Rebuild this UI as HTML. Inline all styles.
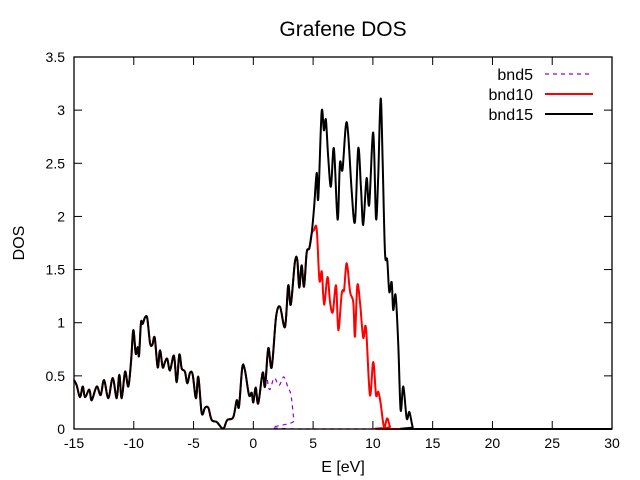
<!DOCTYPE html>
<html><head><meta charset="utf-8"><style>
body{margin:0;background:#fff}
svg{display:block;font-family:"Liberation Sans",Arial,sans-serif}
</style></head><body>
<svg id="chart" width="640" height="480" viewBox="0 0 640 480">
<rect width="640" height="480" fill="#fff"/>
<text x="343" y="36" text-anchor="middle" font-size="21">Grafene DOS</text>
<text x="0" y="0" transform="translate(24,243) rotate(-90)" text-anchor="middle" font-size="16">DOS</text>
<text x="343" y="472" text-anchor="middle" font-size="16">E [eV]</text>
<g id="grid"></g>
<g id="series"></g>
<rect x="74" y="57" width="538" height="372" fill="none" stroke="#000" stroke-width="1.3"/>
<g id="legend"></g>
</svg>
<script>
const xTicks=[-15,-10,-5,0,5,10,15,20,25,30];
const yTicks=[0,0.5,1,1.5,2,2.5,3,3.5];
const yTickLabels=["0","0.5","1","1.5","2","2.5","3","3.5"];
const seriesNames=["bnd5","bnd10","bnd15"];
const commonE=[-15,-14.77,-14.5,-14.27,-14.08,-13.72,-13.52,-13.1,-12.77,-12.49,-12.13,-11.76,-11.43,-11.21,-11.01,-10.73,-10.46,-10.23,-10.04,-9.84,-9.67,-9.56,-9.4,-9.25,-9.06,-8.87,-8.64,-8.45,-8.25,-8.0,-7.81,-7.58,-7.39,-7.2,-6.97,-6.64,-6.41,-6.19,-5.99,-5.72,-5.52,-5.3,-5.07,-4.8,-4.6,-4.32,-4.04,-3.77,-3.48,-3.06,-2.65,-2.45,-2.18,-1.68,-1.39,-1.2,-0.92,-0.7,-0.36,-0.14,0.0,0.2,0.41,0.78,0.98];
const commonD=[0.46,0.41,0.30,0.40,0.30,0.37,0.27,0.40,0.32,0.46,0.29,0.48,0.29,0.51,0.29,0.54,0.40,0.63,0.93,0.71,0.77,0.69,1.0,0.99,1.05,1.04,0.81,0.79,0.86,0.58,0.74,0.58,0.63,0.66,0.55,0.69,0.44,0.70,0.57,0.54,0.43,0.53,0.51,0.29,0.49,0.15,0.20,0.20,0.085,0.066,0.01,0.01,0.085,0.11,0.27,0.21,0.58,0.55,0.32,0.34,0.25,0.39,0.24,0.53,0.40];
const bnd5E=[1.1,1.35,1.75,2.15,2.55,2.9,3.15,3.4,3.6,30];
const bnd5D=[0.5,0.37,0.48,0.41,0.49,0.39,0.32,0.08,0,0];
const midE=[1.25,1.54,1.9,2.23,2.65,2.92,3.13,3.48,3.68,3.84,4.04,4.24,4.46,4.68,4.88];
const midD=[0.76,0.58,1.05,1.15,0.96,1.35,1.17,1.57,1.59,1.33,1.54,1.34,1.66,1.70,1.84];
const bnd10E=[5.07,5.3,5.53,5.73,5.92,6.2,6.42,6.65,6.92,7.11,7.4,7.59,7.81,8.09,8.36,8.5,8.7,8.92,9.19,9.42,9.75,10.03,10.26,10.45,10.65,10.93,11.2,11.43,11.6,30];
const bnd10D=[1.87,1.88,1.40,1.48,1.17,1.43,1.19,1.10,1.35,0.93,1.28,1.31,1.56,1.29,1.19,0.87,1.35,1.19,0.86,0.95,0.32,0.63,0.32,0.35,0.24,0.02,0.10,0.02,0,0];
const bnd15E=[5.1,5.3,5.43,5.71,5.9,6.07,6.26,6.49,6.74,7.05,7.24,7.46,7.74,7.93,8.22,8.5,8.77,9.0,9.19,9.47,9.69,10.03,10.26,10.45,10.65,10.82,11.01,11.2,11.37,11.57,11.7,11.9,12.12,12.32,12.54,12.83,13.05,13.33,13.6,30];
const bnd15D=[2.11,2.41,2.17,2.98,2.81,2.91,2.56,2.28,2.64,1.97,2.50,2.44,2.86,2.78,2.25,1.95,2.64,2.28,1.92,2.36,2.11,2.79,1.98,2.40,3.11,2.50,1.66,1.59,1.29,1.38,1.12,1.26,0.81,0.18,0.40,0.10,0.16,0.02,0,0];

const X0=74,X1=612,Y0=429,Y1=57;
const sx=v=>X0+(v-(-15))/45*(X1-X0);
const sy=v=>Y0-(v/3.5)*(Y0-Y1);
const NS="http://www.w3.org/2000/svg";
function mk(tag,attrs,parent){const e=document.createElementNS(NS,tag);for(const k in attrs)e.setAttribute(k,attrs[k]);parent.appendChild(e);return e;}
const grid=document.getElementById('grid');
xTicks.forEach(t=>{
  const x=sx(t);
  const a=mk('line',{x1:x,x2:x,y1:Y0,y2:Y0-8,stroke:'#000'},grid);
  
  
  const b=mk('line',{x1:x,x2:x,y1:Y1,y2:Y1+8,stroke:'#000'},grid);
  
  
  const l=mk('text',{x:x,y:448,'text-anchor':'middle','font-size':'14'},grid);
  l.textContent=String(t);
  
  
});
yTicks.forEach((t,i)=>{
  const y=sy(t);
  const a=mk('line',{x1:X0,x2:X0+8,y1:y,y2:y,stroke:'#000'},grid);
  
  
  const b=mk('line',{x1:X1,x2:X1-8,y1:y,y2:y,stroke:'#000'},grid);
  
  
  const l=mk('text',{x:X0-9,y:y+5,'text-anchor':'end','font-size':'14'},grid);
  l.textContent=yTickLabels[i];
  
  
});
const ser=document.getElementById('series');
function smooth(E,D){
  const p=E.map((e,i)=>[sx(e),sy(D[i])]);
  let d='M'+p[0][0].toFixed(1)+','+p[0][1].toFixed(1);
  for(let i=0;i<p.length-1;i++){
    const p0=p[i-1]||p[i],p1=p[i],p2=p[i+1],p3=p[i+2]||p2;
    const k=6;
    let c1y=p1[1]+(p2[1]-p0[1])/k, c2y=p2[1]-(p3[1]-p1[1])/k;
    c1y=Math.min(c1y,Y0);c2y=Math.min(c2y,Y0);
    d+=' C'+(p1[0]+(p2[0]-p0[0])/k).toFixed(1)+','+c1y.toFixed(1)+' '+(p2[0]-(p3[0]-p1[0])/k).toFixed(1)+','+c2y.toFixed(1)+' '+p2[0].toFixed(1)+','+p2[1].toFixed(1);
  }
  return d;
}
const s5=mk('path',{d:smooth(commonE.concat(bnd5E),commonD.concat(bnd5D)),fill:'none',stroke:'#9400d3','stroke-width':'1.2','stroke-dasharray':'4,4'},ser);


const s10=mk('path',{d:smooth(commonE.concat(midE,bnd10E),commonD.concat(midD,bnd10D)),fill:'none',stroke:'#ff0000','stroke-width':'2','stroke-linejoin':'round'},ser);


const s15=mk('path',{d:smooth(commonE.concat(midE,bnd15E),commonD.concat(midD,bnd15D)),fill:'none',stroke:'#000','stroke-width':'2','stroke-linejoin':'round'},ser);


const leg=document.getElementById('legend');
const legStyles=[{c:'#9400d3',d:'4,4',w:1.2},{c:'#ff0000',d:'',w:2},{c:'#000',d:'',w:2}];
seriesNames.forEach((n,i)=>{
  const y=74+i*20;
  const t=mk('text',{x:533,y:y+6,'text-anchor':'end','font-size':'16'},leg);
  t.textContent=n;
  
  
  const a={x1:545,x2:593,y1:y,y2:y,stroke:legStyles[i].c,'stroke-width':legStyles[i].w};
  if(legStyles[i].d)a['stroke-dasharray']=legStyles[i].d;
  const l=mk('line',a,leg);
  
  
});
</script>
</body></html>
